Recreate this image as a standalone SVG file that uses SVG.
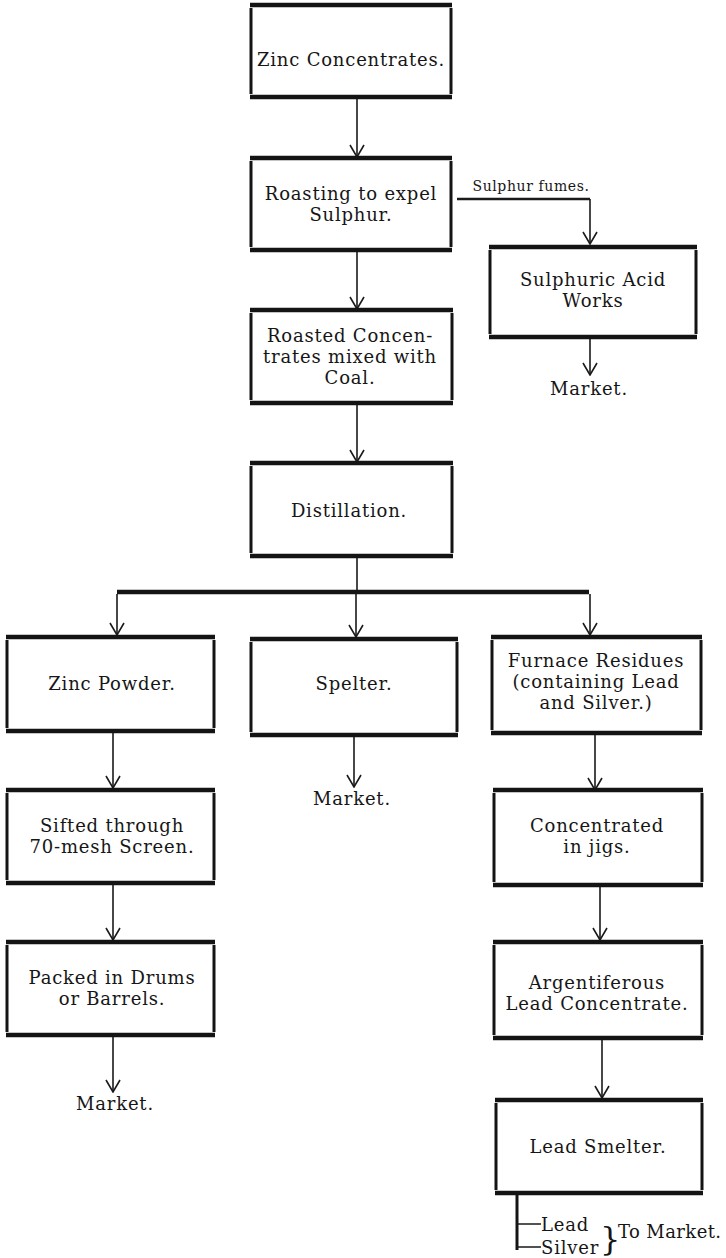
<svg xmlns="http://www.w3.org/2000/svg" width="726" height="1258" viewBox="0 0 726 1258">
<defs>
<style>
.h{stroke:#141414;stroke-width:4.5;fill:none;stroke-linecap:butt}
.v{stroke:#141414;stroke-width:3;fill:none}
.c{stroke:#1a1a1a;stroke-width:1.6;fill:none}
.bar{stroke:#141414;stroke-width:4.5;fill:none}
text{font-family:"DejaVu Serif","Liberation Serif",serif;font-size:18px;letter-spacing:0.8px;fill:#161616;text-anchor:middle}
.sm{font-size:14px;letter-spacing:0.6px}
.st{text-anchor:start}
</style>
<marker id="ah" viewBox="0 0 14 16" markerUnits="userSpaceOnUse" markerWidth="14" markerHeight="16" refX="13" refY="8" orient="auto">
<path d="M1,1 L13,8 L1,15" fill="none" stroke="#1a1a1a" stroke-width="1.6"/>
</marker>
</defs>
<rect width="726" height="1258" fill="#ffffff"/>

<g id="connectors">
<path class="c" d="M357,97 V157" marker-end="url(#ah)"/>
<path class="c" d="M357,250 V309" marker-end="url(#ah)"/>
<path class="c" d="M357,403 V462" marker-end="url(#ah)"/>
<path class="c" d="M357,556 V592"/>
<path class="c" d="M457,199 H590" style="stroke-width:2.4"/>
<path class="c" d="M590,199 V244" marker-end="url(#ah)"/>
<path class="c" d="M590,339 V375" marker-end="url(#ah)"/>
<path class="bar" d="M117,592 H589"/>
<path class="c" d="M117,594 V635" marker-end="url(#ah)"/>
<path class="c" d="M356,594 V637" marker-end="url(#ah)"/>
<path class="c" d="M590,594 V635" marker-end="url(#ah)"/>
<path class="c" d="M113,733 V788" marker-end="url(#ah)"/>
<path class="c" d="M113,885 V940" marker-end="url(#ah)"/>
<path class="c" d="M113,1037 V1092" marker-end="url(#ah)"/>
<path class="c" d="M354,737 V787" marker-end="url(#ah)"/>
<path class="c" d="M595,735 V790" marker-end="url(#ah)"/>
<path class="c" d="M600,887 V940" marker-end="url(#ah)"/>
<path class="c" d="M602,1040 V1098" marker-end="url(#ah)"/>
<path class="v" d="M517,1195 V1250"/>
<path class="c" d="M517,1224 H541 M517,1247 H541"/>
</g>

<g id="n-zinc-concentrates">
<path class="h" d="M250,5 H452 M250,97 H452"/>
<path class="v" d="M251,8 V94 M451,8 V94"/>
<text x="351" y="66">Zinc Concentrates.</text>
</g>

<g id="n-roasting">
<path class="h" d="M250,158 H452 M250,250 H452"/>
<path class="v" d="M251,161 V247 M451,161 V247"/>
<text x="351" y="200">Roasting to expel</text>
<text x="351" y="221">Sulphur.</text>
</g>

<g id="l-sulphur-fumes">
<text class="sm" x="531" y="191">Sulphur fumes.</text>
</g>

<g id="n-sulphuric">
<path class="h" d="M489,247 H697 M489,337 H697"/>
<path class="v" d="M490,250 V334 M696,250 V334"/>
<text x="593" y="286">Sulphuric Acid</text>
<text x="593" y="307">Works</text>
</g>

<g id="n-market-acid">
<text x="589" y="395">Market.</text>
</g>

<g id="n-roasted">
<path class="h" d="M250,310 H453 M250,403 H453"/>
<path class="v" d="M251,313 V400 M452,313 V400"/>
<text x="350" y="342">Roasted Concen-</text>
<text x="350" y="363">trates mixed with</text>
<text x="350" y="384">Coal.</text>
</g>

<g id="n-distillation">
<path class="h" d="M250,463 H453 M250,556 H453"/>
<path class="v" d="M251,466 V553 M452,466 V553"/>
<text x="349" y="517">Distillation.</text>
</g>

<g id="n-zinc-powder">
<path class="h" d="M6,637 H215 M6,731 H215"/>
<path class="v" d="M7,640 V728 M214,640 V728"/>
<text x="112" y="690">Zinc Powder.</text>
</g>

<g id="n-spelter">
<path class="h" d="M250,639 H458 M250,735 H458"/>
<path class="v" d="M251,642 V732 M457,642 V732"/>
<text x="354" y="690">Spelter.</text>
</g>

<g id="n-market-spelter">
<text x="352" y="805">Market.</text>
</g>

<g id="n-furnace">
<path class="h" d="M491,637 H702 M491,733 H702"/>
<path class="v" d="M492,640 V730 M701,640 V730"/>
<text x="596" y="667">Furnace Residues</text>
<text x="596" y="688">(containing Lead</text>
<text x="596" y="709">and Silver.)</text>
</g>

<g id="n-sifted">
<path class="h" d="M6,790 H215 M6,883 H215"/>
<path class="v" d="M7,793 V880 M214,793 V880"/>
<text x="112" y="832">Sifted through</text>
<text x="112" y="853">70-mesh Screen.</text>
</g>

<g id="n-packed">
<path class="h" d="M6,942 H215 M6,1035 H215"/>
<path class="v" d="M7,945 V1032 M214,945 V1032"/>
<text x="112" y="984">Packed in Drums</text>
<text x="112" y="1005">or Barrels.</text>
</g>

<g id="n-market-powder">
<text x="115" y="1110">Market.</text>
</g>

<g id="n-concentrated">
<path class="h" d="M493,790 H703 M493,885 H703"/>
<path class="v" d="M494,793 V882 M702,793 V882"/>
<text x="597" y="832">Concentrated</text>
<text x="597" y="853">in jigs.</text>
</g>

<g id="n-argentiferous">
<path class="h" d="M493,942 H703 M493,1038 H703"/>
<path class="v" d="M494,945 V1035 M702,945 V1035"/>
<text x="597" y="989">Argentiferous</text>
<text x="597" y="1010">Lead Concentrate.</text>
</g>

<g id="n-lead-smelter">
<path class="h" d="M495,1100 H703 M495,1193 H703"/>
<path class="v" d="M496,1103 V1190 M702,1103 V1190"/>
<text x="598" y="1153">Lead Smelter.</text>
</g>

<g id="n-products">
<text class="st" x="541" y="1231">Lead</text>
<text class="st" x="541" y="1254">Silver</text>
<text class="st" x="600" y="1250" style="font-size:32px;letter-spacing:0">}</text>
<text class="st" x="618" y="1238" style="letter-spacing:0.4px">To Market.</text>
</g>
</svg>
